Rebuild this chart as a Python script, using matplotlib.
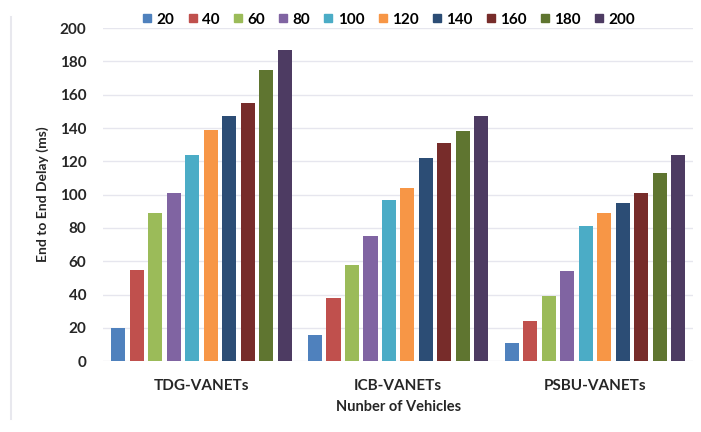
import matplotlib
matplotlib.use("Agg")
from matplotlib import pyplot as plt
from matplotlib.lines import Line2D
import numpy as np

plt.rcParams["font.family"] = ["Lato", "DejaVu Sans"]

protocols = ["TDG-VANETs", "ICB-VANETs", "PSBU-VANETs"]
vehicles = ["20", "40", "60", "80", "100", "120", "140", "160", "180", "200"]

# delay per vehicle count, one value per protocol
delay = {
    "20": [20, 16, 11],
    "40": [55, 38, 24],
    "60": [89, 58, 39],
    "80": [101, 75, 54],
    "100": [124, 97, 81],
    "120": [139, 104, 89],
    "140": [147, 122, 95],
    "160": [155, 131, 101],
    "180": [175, 138, 113],
    "200": [187, 147, 124],
}

colors = ["#4F81BD", "#C0504D", "#9BBB59", "#8064A2", "#4BACC6",
          "#F79646", "#2C4D75", "#772C2A", "#5F7530", "#4D3B62"]

fig = plt.figure(figsize=(7.01, 4.32), dpi=100)
ax = fig.add_axes([0.147, 0.164, 0.842, 0.771])

x = np.arange(len(protocols))
pitch = 0.094
width = 0.072
for i, v in enumerate(vehicles):
    offset = (i - 4.5) * pitch
    ax.bar(x + offset, delay[v], width, color=colors[i], label=v, zorder=3)

ax.set_xlim(-0.5, 2.5)
ax.set_ylim(0, 200)
ax.set_yticks(range(0, 201, 20))
ax.set_xticks(x)
ax.set_xticklabels(protocols)
ax.tick_params(axis="both", length=0, labelsize=11, colors="#262626")
ax.tick_params(axis="x", pad=13)
ax.tick_params(axis="y", pad=12)
for lbl in ax.get_xticklabels() + ax.get_yticklabels():
    lbl.set_fontweight("bold")
ax.grid(axis="y", color="#E6E6EE", linewidth=1, zorder=0)
for s in ax.spines.values():
    s.set_visible(False)

ax.set_xlabel("Nunber of Vehicles", fontsize=10.5, fontweight="bold",
              color="#262626", labelpad=5)
ax.set_ylabel("End to End Delay (ms)", fontsize=10, fontweight="bold",
              color="#262626", labelpad=8)

handles = [Line2D([], [], marker="s", linestyle="", markersize=6,
                  color=c) for c in colors]
ax.legend(handles, vehicles, ncol=10, loc="center", bbox_to_anchor=(0.483, 1.025),
          frameon=False, prop={"size": 11, "weight": "bold"},
          handlelength=0.8, handletextpad=0.2, columnspacing=0.8,
          borderaxespad=0)

fig.add_artist(Line2D([0.016, 0.016], [0.03, 0.96], color="#E8E8EE",
                      linewidth=1.5, transform=fig.transFigure))

fig.savefig("out.png", dpi=100)
